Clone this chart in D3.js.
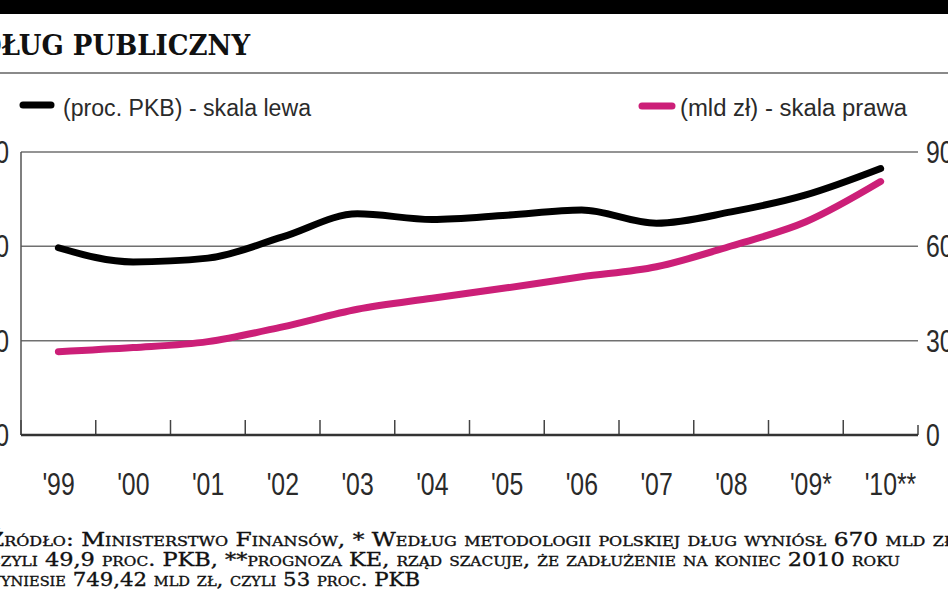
<!DOCTYPE html>
<html>
<head>
<meta charset="utf-8">
<script src="https://cdn.jsdelivr.net/npm/d3@7"></script>
<style>
  html, body { margin: 0; padding: 0; background: #fff; }
  svg { display: block; }
  .num { font-family: "Liberation Sans", "Roboto", sans-serif; fill: #2a2a2a; }
  .slab { font-family: "DejaVu Serif", serif; }
</style>
</head>
<body>
<svg id="chart" width="948" height="593"></svg>
<script>
// ---- data ----
const years = ["1999","2000","2001","2002","2003","2004","2005","2006","2007","2008","2009","2010"];
const yearLabels = ["'99","'00","'01","'02","'03","'04","'05","'06","'07","'08","'09*","'10**"];
const debtPctGDP = [39.7, 36.7, 37.5, 42.0, 46.9, 45.7, 46.6, 47.7, 44.9, 47.3, 50.9, 56.5];
const debtBnPLN  = [265, 278, 297, 344, 400, 435, 468, 503, 535, 601, 678, 806];
const leftTicks  = [0, 20, 40, 60];
const rightTicks = [0, 300, 600, 900];
const title = "DŁUG PUBLICZNY";
const legendLeft = "(proc. PKB) - skala lewa";
const legendRight = "(mld zł) - skala prawa";
const footnote = [
  "Źródło: Ministerstwo Finansów, * Według metodologii polskiej dług wyniósł 670 mld zł,",
  "czyli 49,9 proc. PKB, **prognoza KE, rząd szacuje, że zadłużenie na koniec 2010 roku",
  "wyniesie 749,42 mld zł, czyli 53 proc. PKB"
];

const svg = d3.select("#chart");
const W = 948, H = 593;
const plot = {left: 21, right: 918, top: 152, bottom: 435};
const narrow = 0.8;

const x = d3.scaleBand().domain(years).range([plot.left, plot.right]).padding(0);
const cx = d => x(d) + x.bandwidth() / 2;
const yL = d3.scaleLinear().domain([0, 60]).range([plot.bottom, plot.top]);
const yR = d3.scaleLinear().domain([0, 900]).range([plot.bottom, plot.top]);

// top bar
svg.append("rect").attr("x", 0).attr("y", 0).attr("width", W).attr("height", 14).attr("fill", "#000");

// title
svg.append("text").attr("class", "slab")
  .attr("x", -21).attr("y", 55)
  .attr("font-size", 27).attr("font-weight", "bold").attr("fill", "#111")
  .attr("textLength", 271).attr("lengthAdjust", "spacingAndGlyphs")
  .text(title);

svg.append("line").attr("x1", 0).attr("x2", W).attr("y1", 73).attr("y2", 73)
  .attr("stroke", "#8a8a8a").attr("stroke-width", 2);

// legend
svg.append("line").attr("x1", 23).attr("x2", 51).attr("y1", 105).attr("y2", 105)
  .attr("stroke", "#000").attr("stroke-width", 7).attr("stroke-linecap", "round");
svg.append("text").attr("class", "num").attr("x", 63).attr("y", 116)
  .attr("font-size", 23).attr("textLength", 248).attr("lengthAdjust", "spacingAndGlyphs")
  .text(legendLeft);
svg.append("line").attr("x1", 642).attr("x2", 672).attr("y1", 106).attr("y2", 106)
  .attr("stroke", "#cc1f78").attr("stroke-width", 7).attr("stroke-linecap", "round");
svg.append("text").attr("class", "num").attr("x", 680).attr("y", 116)
  .attr("font-size", 23).attr("textLength", 227).attr("lengthAdjust", "spacingAndGlyphs")
  .text(legendRight);

// gridlines (skip 0)
const g = svg.append("g");
g.selectAll("line.grid").data(leftTicks.filter(t => t > 0)).join("line")
  .attr("class", "grid")
  .attr("x1", plot.left).attr("x2", plot.right)
  .attr("y1", d => yL(d)).attr("y2", d => yL(d))
  .attr("stroke", "#707070").attr("stroke-width", 1.5);

// left vertical axis line
g.append("line").attr("x1", plot.left).attr("x2", plot.left)
  .attr("y1", plot.top).attr("y2", plot.bottom)
  .attr("stroke", "#555").attr("stroke-width", 1.5);

// x ticks at band boundaries
const boundaries = years.map(d => x(d)).concat([plot.right]);
g.selectAll("line.xt").data(boundaries).join("line")
  .attr("class", "xt")
  .attr("x1", d => d).attr("x2", d => d)
  .attr("y1", (d, i) => (i === boundaries.length - 1) ? plot.bottom - 10 : plot.bottom - 15)
  .attr("y2", plot.bottom)
  .attr("stroke", "#444").attr("stroke-width", 1.5);

// bottom axis line
g.append("line").attr("x1", plot.left).attr("x2", plot.right)
  .attr("y1", plot.bottom).attr("y2", plot.bottom)
  .attr("stroke", "#333").attr("stroke-width", 2.5);

// x labels (condensed by horizontal scale)
svg.selectAll("text.xl").data(years).join("text")
  .attr("class", "num xl")
  .attr("transform", d => `translate(${cx(d) - 16},495) scale(${narrow},1)`)
  .attr("font-size", 31)
  .text((d, i) => yearLabels[i]);

// left tick labels (cropped like the reference)
svg.selectAll("text.yl").data(leftTicks).join("text")
  .attr("class", "num yl")
  .attr("transform", d => `translate(9,${yL(d) + 11}) scale(${narrow},1)`)
  .attr("text-anchor", "end").attr("font-size", 31)
  .text(d => d);

// right tick labels
svg.selectAll("text.yr").data(rightTicks).join("text")
  .attr("class", "num yr")
  .attr("transform", d => `translate(926,${yR(d) + 11}) scale(${narrow},1)`)
  .attr("font-size", 31)
  .text(d => d);

// lines
const lineL = d3.line().x((d, i) => cx(years[i])).y(d => yL(d)).curve(d3.curveMonotoneX);
const lineR = d3.line().x((d, i) => cx(years[i])).y(d => yR(d)).curve(d3.curveMonotoneX);

svg.append("path").attr("d", lineR(debtBnPLN))
  .attr("fill", "none").attr("stroke", "#cc1f78").attr("stroke-width", 7)
  .attr("stroke-linecap", "round").attr("stroke-linejoin", "round");
svg.append("path").attr("d", lineL(debtPctGDP))
  .attr("fill", "none").attr("stroke", "#000").attr("stroke-width", 7)
  .attr("stroke-linecap", "round").attr("stroke-linejoin", "round");

// footnote
const fnX = [-12, -11, -14];
const fnLen = [974, 911, 434];
svg.selectAll("text.fn").data(footnote).join("text")
  .attr("class", "slab fn")
  .attr("x", (d, i) => fnX[i])
  .attr("y", (d, i) => 546 + i * 20)
  .attr("font-size", 19)
  .attr("font-variant", "small-caps")
  .attr("fill", "#111")
  .attr("stroke", "#111").attr("stroke-width", 0.35)
  .attr("textLength", (d, i) => fnLen[i])
  .attr("lengthAdjust", "spacingAndGlyphs")
  .text(d => d);
</script>
</body>
</html>
